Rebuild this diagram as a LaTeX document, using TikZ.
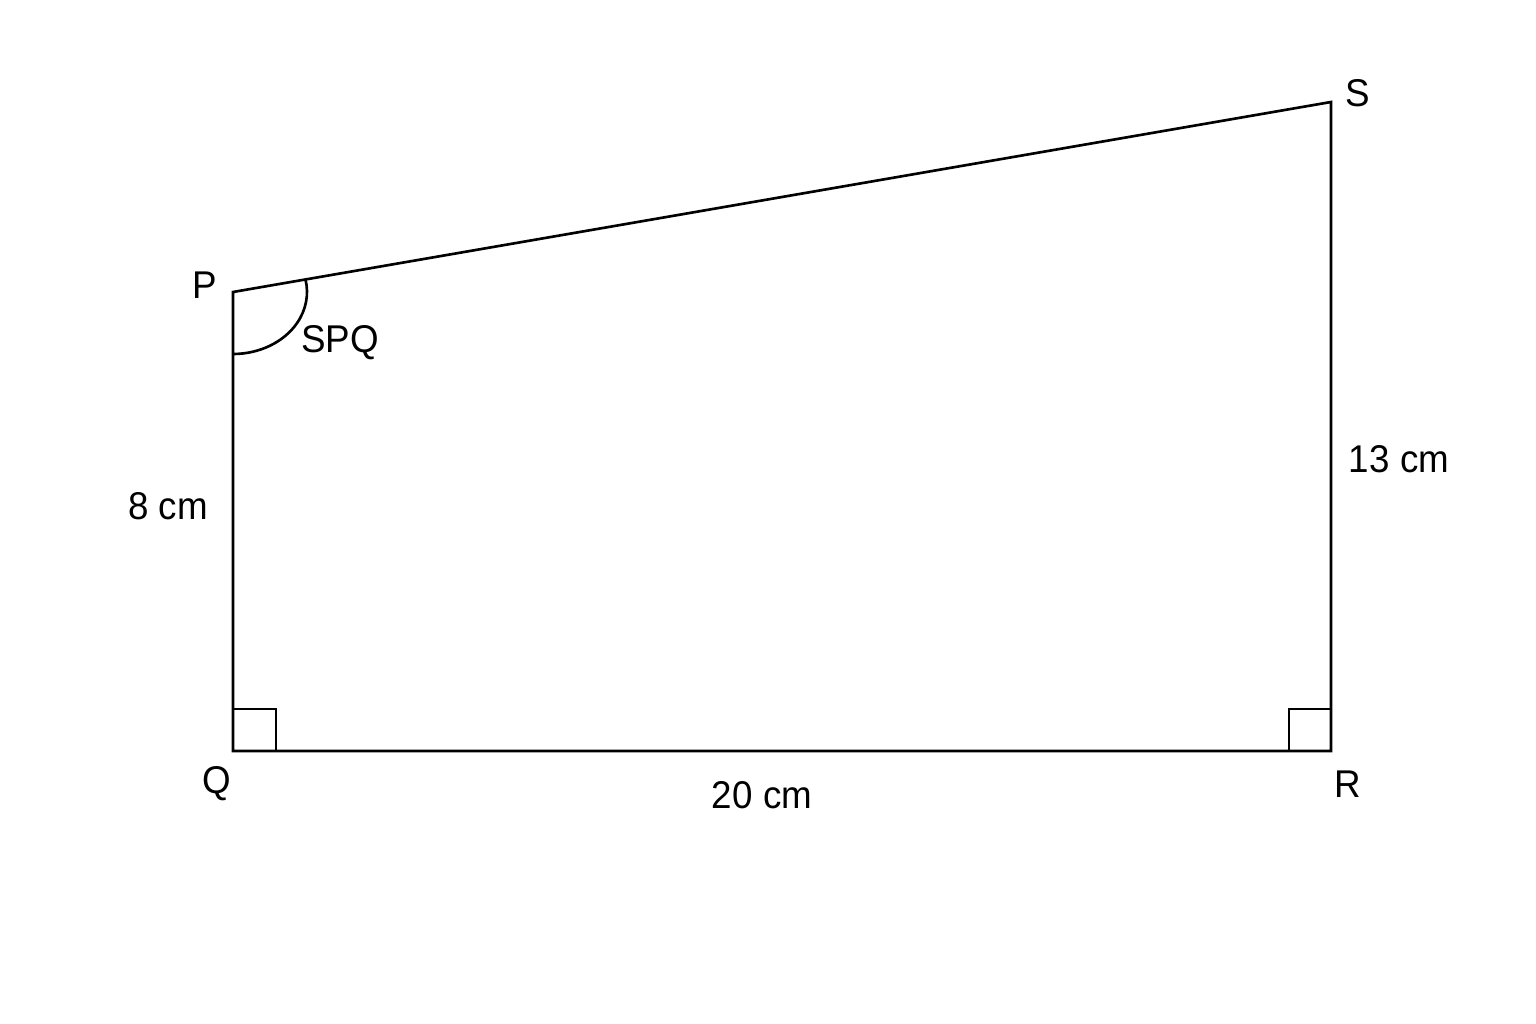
\documentclass[tikz,border=0pt]{standalone}
\usepackage{fontspec}
\setmainfont{Liberation Sans}
\usepackage{tikz}
\usetikzlibrary{positioning}

\begin{document}
\begin{tikzpicture}[x=0.01cm,y=-0.01cm,line width=0.75pt,
    lbl/.style={font=\fontsize{11}{13}\selectfont, xscale=0.95}]
  \useasboundingbox (0,0) rectangle (1536,1024);

  % corners
  \coordinate (P) at (233,292);
  \coordinate (Q) at (233,751);
  \coordinate (R) at (1331,751);
  \coordinate (S) at (1331,102);

  % outline
  \draw (P) -- (Q) -- (R) -- (S) -- cycle;

  % right angle marks
  \draw ([shift={(0,-42)}]Q) -| ([shift={(43,0)}]Q);
  \draw ([shift={(0,-42)}]R) -| ([shift={(-42,0)}]R);

  % angle at P
  \draw ([shift={(0,62)}]P) arc[start angle=90, end angle=-11.5, x radius=74, y radius=62];

  % vertex labels
  \foreach \name/\pos in {P/{205,285}, S/{1358,93}, Q/{217,784}, R/{1348,784}} {
    \node[lbl] (lbl\name) at (\pos) {\name};
  }

  % side labels
  \node[lbl] (spq) at (340,343) {SPQ};
  \node[lbl] (pq) at (168,506) {8 cm};
  \node[lbl] (rs) at (1399,459) {13 cm};
  \node[lbl] (qr) at (762,795) {20 cm};
\end{tikzpicture}
\end{document}
